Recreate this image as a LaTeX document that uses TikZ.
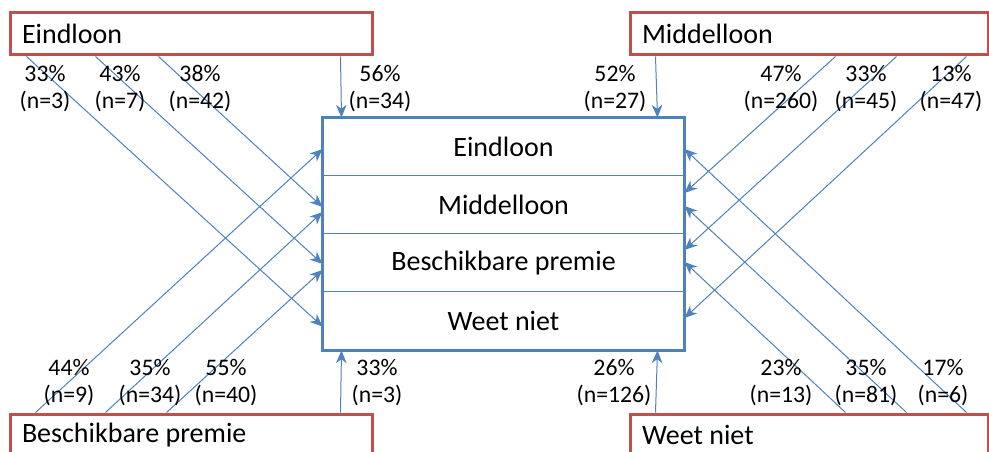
\documentclass[tikz,border=0pt]{standalone}
\usepackage{fontspec}
\setmainfont{Carlito}
\usetikzlibrary{calc,arrows.meta}
\definecolor{OBlue}{HTML}{4F81BD}
\definecolor{ORed}{HTML}{C0504D}
\tikzset{
    srcbox/.style = {draw=ORed, line width=2.25pt, rectangle,
        inner xsep=9pt, inner ysep=0pt,
        minimum height=31.5pt, align=flush left,
        font=\fontsize{21}{25}\selectfont},
    row/.style = {draw=OBlue, line width=0.75pt, rectangle, inner sep=0pt,
        minimum width=270.75pt,
        minimum height=43.5pt,
        font=\fontsize{21}{25}\selectfont},
    pct/.style = {align=center, inner sep=0pt, font=\fontsize{17.8}{20.25}\selectfont},
    flow/.style = {draw=OBlue, line width=0.75pt, -{Stealth[length=9.5pt,width=8pt,inset=3pt]}}
}
\begin{document}
\begin{tikzpicture}[x=0.75pt,y=-0.75pt]
            \useasboundingbox (0,0) rectangle (989,452);
            \fill[white] (0,0) rectangle (989,452);
            \clip (0,0) rectangle (989,452);
            \node[srcbox, text width=253.5pt] (eind) at (191,34) {Eindloon};
            \node[srcbox, text width=250.5pt] (midden) at (809,34) {Middelloon};
            \node[srcbox, text width=253.5pt] (premie) at (191,435) {Beschikbare premie};
            \node[srcbox, text width=250.5pt] (weet) at (809,435) {Weet niet};
            \node[row] (r1) at (503.5,147) {Eindloon};
            \node[row] (r2) at (503.5,205) {Middelloon};
            \node[row] (r3) at (503.5,263) {Beschikbare premie};
            \node[row] (r4) at (503.5,321) {Weet niet};
            \draw[draw=OBlue, line width=2.25pt] (r1.north west) rectangle (r4.south east);
            \draw[flow] ($(eind.south west)+(332,0)$) -- ($(r1.north west)+(19,0)$);
            \draw[flow] ($(midden.south west)+(27,0)$) -- ($(r1.north east)+(-27,0)$);
            \draw[flow] ($(premie.north west)+(332,0)$) -- ($(r4.south west)+(19,0)$);
            \draw[flow] ($(weet.north west)+(27,0)$) -- ($(r4.south east)+(-27,0)$);
            \draw[flow] ($(eind.south west)+(18,0)$) -- ($(r4.west)+(0,5.5)$);
            \draw[flow] ($(eind.south west)+(87,0)$) -- ($(r3.west)+(0,1)$);
            \draw[flow] ($(eind.south west)+(150,0)$) -- ($(r2.west)+(0,2)$);
            \draw[flow] ($(premie.north west)+(27,0)$) -- ($(r1.west)+(0,2)$);
            \draw[flow] ($(premie.north west)+(97,0)$) -- ($(r2.west)+(0,7)$);
            \draw[flow] ($(premie.north west)+(158,0)$) -- ($(r3.west)+(0,7)$);
            \draw[flow] ($(midden.south west)+(207,0)$) -- ($(r2.east)+(0,-12)$);
            \draw[flow] ($(midden.south west)+(268,0)$) -- ($(r3.east)+(0,-13)$);
            \draw[flow] ($(midden.south west)+(338,0)$) -- ($(r4.east)+(0,-3)$);
            \draw[flow] ($(weet.north west)+(217,0)$) -- ($(r3.east)+(0,-1)$);
            \draw[flow] ($(weet.north west)+(278,0)$) -- ($(r2.east)+(0,1)$);
            \draw[flow] ($(weet.north west)+(338,0)$) -- ($(r1.east)+(0,2)$);
            \foreach \x/\p/\n [count=\i] in {45/33/3, 120/43/7, 200/38/42, 380/56/34, 615/52/27, 781/47/260, 866/33/45, 951/13/47}
                \node[pct] (top\i) at (\x,88.5) {\p\%\\(n=\n)};
            \foreach \x/\p/\n [count=\i] in {69/44/9, 150/35/34, 226/55/40, 377/33/3, 614/26/126, 781/23/13, 866/35/81, 943/17/6}
                \node[pct] (bot\i) at (\x,383) {\p\%\\(n=\n)};
\end{tikzpicture}
\end{document}
